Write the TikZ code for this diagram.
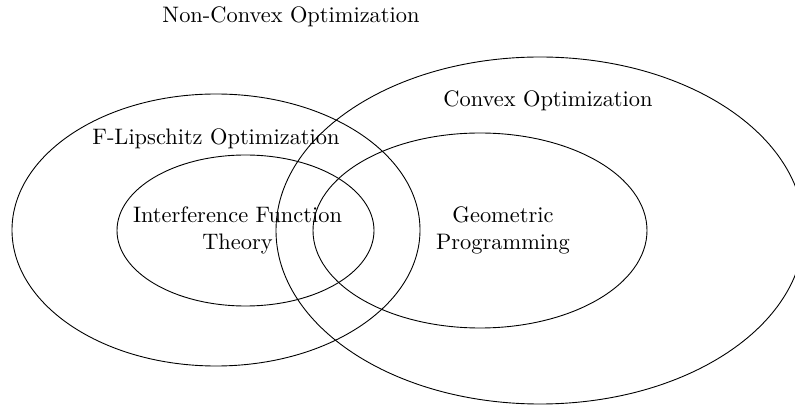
\documentclass[tikz,border=0pt]{standalone}
\usepackage{amsmath}
\usepackage{tikz}
\usetikzlibrary{shapes}

\begin{document}
\begin{tikzpicture}[x=0.4464pt,y=0.4464pt]
\useasboundingbox (0,0) rectangle (795,406);
\clip (0,0) rectangle (795,406);
\draw (216,176) ellipse (204 and 136);
\draw (245.5,175.5) ellipse (128.5 and 75.5);
\draw (540,175.5) ellipse (264 and 173.5);
\draw (480,175.5) ellipse (167 and 97.5);
\node (noncvx) at (291,389) {Non-Convex Optimization};
\node (flip) at (216,267) {F-Lipschitz Optimization};
\node (cvx) at (548,305) {Convex Optimization};
\node[align=center] (ift) at (237.5,176) {Interference Function\\Theory};
\node[align=center] (gp) at (503,176) {Geometric\\Programming};
\end{tikzpicture}
\end{document}
